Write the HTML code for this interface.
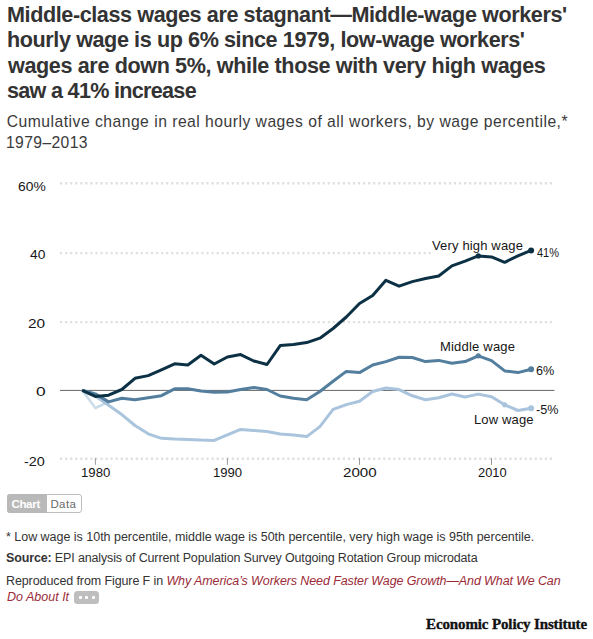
<!DOCTYPE html>
<html><head><meta charset="utf-8">
<style>
html,body{margin:0;padding:0;background:#fff;}
body{width:593px;height:639px;position:relative;overflow:hidden;font-family:"Liberation Sans",sans-serif;color:#333;}
.a{position:absolute;white-space:nowrap;}
</style></head><body>
<svg width="593" height="639" viewBox="0 0 593 639" style="position:absolute;left:0;top:0">
<line x1="60" y1="183.3" x2="552" y2="183.3" stroke="#e0e0e0" stroke-width="2.4" stroke-dasharray="2.2,2.85"/>
<line x1="60" y1="253.1" x2="432" y2="253.1" stroke="#e0e0e0" stroke-width="2.4" stroke-dasharray="2.2,2.85"/>
<line x1="60" y1="322.1" x2="552" y2="322.1" stroke="#e0e0e0" stroke-width="2.4" stroke-dasharray="2.2,2.85"/>
<line x1="60" y1="458.8" x2="552" y2="458.8" stroke="#e0e0e0" stroke-width="2.4" stroke-dasharray="2.2,2.85"/>

<line x1="60" y1="390.4" x2="554.5" y2="390.4" stroke="#666" stroke-width="1"/>
<line x1="95.4" y1="458" x2="95.4" y2="464.8" stroke="#9a9a9a" stroke-width="1"/>
<line x1="227.4" y1="458" x2="227.4" y2="464.8" stroke="#9a9a9a" stroke-width="1"/>
<line x1="359.5" y1="458" x2="359.5" y2="464.8" stroke="#9a9a9a" stroke-width="1"/>
<line x1="491.5" y1="458" x2="491.5" y2="464.8" stroke="#9a9a9a" stroke-width="1"/>

<path d="M82.2,390.3 L95.4,408.0 L108.6,401.8" fill="none" stroke="#a9c4dc" stroke-opacity="0.6" stroke-width="2.5" stroke-linejoin="round"/>
<path d="M82.2,390.3 L95.4,396.0 L108.6,405.3 L121.8,414.6 L135.0,425.5 L148.2,433.8 L161.4,438.3 L174.6,439.0 L187.8,439.4 L201.0,440.1 L214.2,440.4 L227.4,434.9 L240.6,429.4 L253.8,430.4 L267.0,431.5 L280.2,433.9 L293.4,434.9 L306.7,436.6 L319.9,426.6 L333.1,409.4 L346.3,404.6 L359.5,401.2 L372.7,391.5 L385.9,388.0 L399.1,389.6 L412.3,395.8 L425.5,399.8 L438.7,397.7 L451.9,394.0 L465.1,397.0 L478.3,394.1 L491.5,396.8 L504.7,404.8 L517.9,410.5 L531.1,408.3" fill="none" stroke="#a9c4dc" stroke-width="3" stroke-linejoin="round"/>
<path d="M82.2,390.3 L95.4,393.9 L108.6,401.9 L121.8,398.2 L135.0,399.8 L148.2,397.7 L161.4,395.7 L174.6,388.8 L187.8,388.8 L201.0,391.0 L214.2,392.3 L227.4,392.0 L240.6,389.5 L253.8,387.4 L267.0,389.5 L280.2,396.0 L293.4,398.3 L306.7,399.8 L319.9,391.5 L333.1,381.3 L346.3,371.4 L359.5,372.6 L372.7,365.0 L385.9,361.6 L399.1,357.3 L412.3,357.5 L425.5,361.6 L438.7,360.4 L451.9,363.3 L465.1,361.6 L478.3,355.8 L491.5,360.6 L504.7,370.9 L517.9,372.6 L531.1,369.2" fill="none" stroke="#537e9e" stroke-width="3" stroke-linejoin="round"/>
<path d="M82.2,390.3 L95.4,396.4 L108.6,395.2 L121.8,389.5 L135.0,378.3 L148.2,375.6 L161.4,369.8 L174.6,363.8 L187.8,365.0 L201.0,355.2 L214.2,364.0 L227.4,357.0 L240.6,354.6 L253.8,361.0 L267.0,364.5 L280.2,345.6 L293.4,344.6 L306.7,342.6 L319.9,338.2 L333.1,328.5 L346.3,317.0 L359.5,303.5 L372.7,295.5 L385.9,280.3 L399.1,286.2 L412.3,281.6 L425.5,278.5 L438.7,276.0 L451.9,265.9 L465.1,261.1 L478.3,255.9 L491.5,256.9 L504.7,262.3 L517.9,255.9 L531.1,250.4" fill="none" stroke="#0c3145" stroke-width="3" stroke-linejoin="round"/>
<circle cx="478.3" cy="255.9" r="2.6" fill="#0c3145"/><circle cx="531.1" cy="250.4" r="3" fill="#0c3145"/>
<circle cx="478.3" cy="355.8" r="2.6" fill="#537e9e"/><circle cx="531.1" cy="369.2" r="3" fill="#537e9e"/>
<circle cx="504.7" cy="404.8" r="2.6" fill="#a9c4dc"/><circle cx="531.1" cy="408.3" r="3" fill="#a9c4dc"/>
</svg>
<div style="position:absolute;left:7px;top:494px;width:74.5px;height:19px;border:1px solid #bdbdbd;border-radius:3px;box-sizing:border-box;"></div>
<div style="position:absolute;left:7px;top:494px;width:39.5px;height:19px;background:#b9b9b9;border-radius:3px 0 0 3px;"></div>
<div style="position:absolute;left:74px;top:590.5px;width:24.7px;height:13.8px;background:#bebebe;border-radius:3.5px;"></div>
<div style="position:absolute;left:79px;top:596.4px;width:3px;height:3px;background:#fff;border-radius:1px;"></div>
<div style="position:absolute;left:85.4px;top:596.4px;width:3px;height:3px;background:#fff;border-radius:1px;"></div>
<div style="position:absolute;left:91.9px;top:596.4px;width:3px;height:3px;background:#fff;border-radius:1px;"></div>
<div id="t1" class="a" style="left:7.00px;top:3.50px;font-size:21.60px;line-height:21.60px;letter-spacing:-0.412px;transform:scaleX(1.0000);transform-origin:0 0;font-weight:bold;color:#333">Middle-class wages are stagnant—Middle-wage workers'</div>
<div id="t2" class="a" style="left:7.00px;top:29.30px;font-size:21.60px;line-height:21.60px;letter-spacing:-0.408px;transform:scaleX(1.0000);transform-origin:0 0;font-weight:bold;color:#333">hourly wage is up 6% since 1979, low-wage workers'</div>
<div id="t3" class="a" style="left:8.00px;top:54.60px;font-size:21.60px;line-height:21.60px;letter-spacing:-0.380px;transform:scaleX(1.0000);transform-origin:0 0;font-weight:bold;color:#333">wages are down 5%, while those with very high wages</div>
<div id="t4" class="a" style="left:7.00px;top:79.70px;font-size:21.60px;line-height:21.60px;letter-spacing:-0.706px;transform:scaleX(1.0000);transform-origin:0 0;font-weight:bold;color:#333">saw a 41% increase</div>
<div id="s1" class="a" style="left:6.80px;top:114.20px;font-size:15.70px;line-height:15.70px;letter-spacing:0.484px;transform:scaleX(1.0000);transform-origin:0 0;color:#3a3a3a">Cumulative change in real hourly wages of all workers, by wage percentile,*</div>
<div id="s2" class="a" style="left:6.00px;top:135.00px;font-size:15.70px;line-height:15.70px;letter-spacing:0.375px;transform:scaleX(1.0000);transform-origin:0 0;color:#3a3a3a">1979–2013</div>
<div id="y60" class="a" style="left:18.00px;top:180.50px;font-size:12.50px;line-height:12.50px;letter-spacing:0.000px;transform:scaleX(1.1086);transform-origin:0 0;color:#161616">60%</div>
<div id="y40" class="a" style="left:30.00px;top:249.00px;font-size:12.50px;line-height:12.50px;letter-spacing:0.000px;transform:scaleX(1.1028);transform-origin:0 0;color:#161616">40</div>
<div id="y20" class="a" style="left:28.00px;top:318.00px;font-size:12.50px;line-height:12.50px;letter-spacing:0.000px;transform:scaleX(1.2308);transform-origin:0 0;color:#161616">20</div>
<div id="y0" class="a" style="left:36.00px;top:386.00px;font-size:12.50px;line-height:12.50px;letter-spacing:0.000px;transform:scaleX(1.3842);transform-origin:0 0;color:#161616">0</div>
<div id="ym20" class="a" style="left:24.00px;top:455.50px;font-size:12.50px;line-height:12.50px;letter-spacing:0.000px;transform:scaleX(1.1512);transform-origin:0 0;color:#161616">-20</div>
<div id="x1980" class="a" style="left:81.00px;top:467.00px;font-size:12.50px;line-height:12.50px;letter-spacing:0.000px;transform:scaleX(1.0526);transform-origin:0 0;color:#161616">1980</div>
<div id="x1990" class="a" style="left:213.00px;top:467.00px;font-size:12.50px;line-height:12.50px;letter-spacing:0.000px;transform:scaleX(1.0455);transform-origin:0 0;color:#161616">1990</div>
<div id="x2000" class="a" style="left:343.00px;top:467.00px;font-size:12.50px;line-height:12.50px;letter-spacing:0.000px;transform:scaleX(1.2091);transform-origin:0 0;color:#161616">2000</div>
<div id="x2010" class="a" style="left:478.00px;top:467.00px;font-size:12.50px;line-height:12.50px;letter-spacing:0.000px;transform:scaleX(1.0304);transform-origin:0 0;color:#161616">2010</div>
<div id="lvh" class="a" style="left:432.00px;top:239.00px;font-size:13.00px;line-height:13.00px;letter-spacing:0.154px;transform:scaleX(1.0000);transform-origin:0 0;color:#161616">Very high wage</div>
<div id="p41" class="a" style="left:536.80px;top:246.60px;font-size:12.00px;line-height:12.00px;letter-spacing:0.000px;transform:scaleX(0.9150);transform-origin:0 0;color:#161616">41%</div>
<div id="lmid" class="a" style="left:440.00px;top:339.50px;font-size:13.00px;line-height:13.00px;letter-spacing:0.200px;transform:scaleX(1.0000);transform-origin:0 0;color:#161616">Middle wage</div>
<div id="p6" class="a" style="left:536.20px;top:365.00px;font-size:12.00px;line-height:12.00px;letter-spacing:0.000px;transform:scaleX(1.0542);transform-origin:0 0;color:#161616">6%</div>
<div id="llow" class="a" style="left:474.00px;top:412.50px;font-size:13.00px;line-height:13.00px;letter-spacing:0.143px;transform:scaleX(1.0000);transform-origin:0 0;color:#161616">Low wage</div>
<div id="pm5" class="a" style="left:536.20px;top:403.80px;font-size:12.00px;line-height:12.00px;letter-spacing:0.000px;transform:scaleX(1.0494);transform-origin:0 0;color:#161616">-5%</div>
<div id="n1" class="a" style="left:6.00px;top:530.50px;font-size:12.50px;line-height:12.50px;letter-spacing:-0.021px;transform:scaleX(1.0000);transform-origin:0 0;color:#333">* Low wage is 10th percentile, middle wage is 50th percentile, very high wage is 95th percentile.</div>
<div id="n2" class="a" style="left:6.00px;top:552.00px;font-size:12.50px;line-height:12.50px;letter-spacing:-0.146px;transform:scaleX(1.0000);transform-origin:0 0;color:#333"><b>Source:</b> EPI analysis of Current Population Survey Outgoing Rotation Group microdata</div>
<div id="n3" class="a" style="left:6.00px;top:575.00px;font-size:12.50px;line-height:12.50px;letter-spacing:-0.102px;transform:scaleX(1.0000);transform-origin:0 0;color:#333">Reproduced from Figure F in <i style="color:#9b2b37">Why America’s Workers Need Faster Wage Growth—And What We Can</i></div>
<div id="n4" class="a" style="left:7.00px;top:591.00px;font-size:12.50px;line-height:12.50px;letter-spacing:-0.000px;transform:scaleX(1.0000);transform-origin:0 0;color:#333"><i style="color:#9b2b37">Do About It</i></div>
<div id="epi" class="a" style="left:426.00px;top:616.50px;font-size:15.00px;line-height:15.00px;letter-spacing:-0.125px;transform:scaleX(1.0000);transform-origin:0 0;font-family:'Liberation Serif',serif;font-weight:bold;color:#111;-webkit-text-stroke:0.35px #111">Economic Policy Institute</div>
<div id="chart" class="a" style="left:11.40px;top:499.20px;font-size:11.50px;line-height:11.50px;letter-spacing:-0.300px;transform:scaleX(1.0000);transform-origin:0 0;color:#fff;font-weight:bold">Chart</div>
<div id="data" class="a" style="left:50.40px;top:499.20px;font-size:11.50px;line-height:11.50px;letter-spacing:0.400px;transform:scaleX(1.0000);transform-origin:0 0;color:#6a6a6a">Data</div>

</body></html>
